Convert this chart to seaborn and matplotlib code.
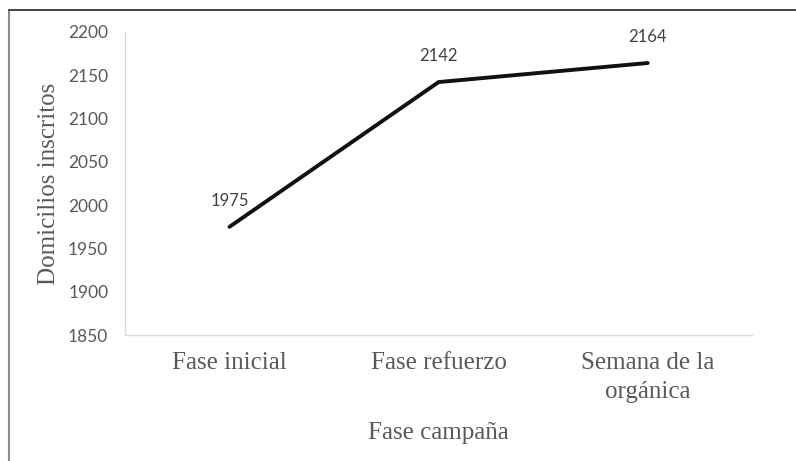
import matplotlib
matplotlib.use("Agg")
import matplotlib.pyplot as plt
import seaborn as sns
import pandas as pd
from matplotlib.lines import Line2D

### data ###
fases = ["Fase inicial", "Fase refuerzo", "Semana de la\norgánica"]
domicilios = [1975, 2142, 2164]
y_ticks = [1850, 1900, 1950, 2000, 2050, 2100, 2150, 2200]

df = pd.DataFrame({"fase": fases, "domicilios": domicilios})

sns.set_style("white")
plt.rcParams["font.family"] = ["Liberation Serif", "DejaVu Serif"]

fig = plt.figure(figsize=(7.96, 4.61), dpi=100)
ax = fig.add_axes([0.157, 0.273, 0.788, 0.658])

sns.lineplot(data=df, x="fase", y="domicilios", color="#111111",
             linewidth=2.8, sort=False, ax=ax)

# etiquetas de datos
for i, v in enumerate(domicilios):
    ax.annotate(str(v), (i, v), textcoords="offset points", xytext=(0, 13),
                ha="center", va="bottom", fontsize=12, color="#404040",
                family=["Lato", "DejaVu Sans"])

ax.set_ylim(1850, 2200)
ax.set_xlim(-0.5, 2.5)
ax.set_yticks(y_ticks)
ax.set_yticklabels([str(t) for t in y_ticks], family=["Lato", "DejaVu Sans"],
                   fontsize=12.5, color="#595959")
ax.tick_params(axis="x", labelsize=18, colors="#595959", pad=12, length=0)
ax.tick_params(axis="y", pad=12, length=0)
for lbl in ax.get_xticklabels():
    lbl.set_linespacing(1.4)

ax.set_xlabel("Fase campaña", fontsize=18, color="#595959", labelpad=14)
ax.set_ylabel("Domicilios inscritos", fontsize=18, color="#595959", labelpad=6)

for s in ["top", "right"]:
    ax.spines[s].set_visible(False)
for s in ["left", "bottom"]:
    ax.spines[s].set_color("#d9d9d9")
    ax.spines[s].set_linewidth(1.0)

# marco de la figura (solo izquierda y arriba)
fig.add_artist(Line2D([0.011, 0.011], [0, 0.978], transform=fig.transFigure,
                      color="#8c8c8c", linewidth=1.5))
fig.add_artist(Line2D([0.011, 1.0], [0.978, 0.978], transform=fig.transFigure,
                      color="#262626", linewidth=1.2))

fig.savefig("out.png", dpi=100)
